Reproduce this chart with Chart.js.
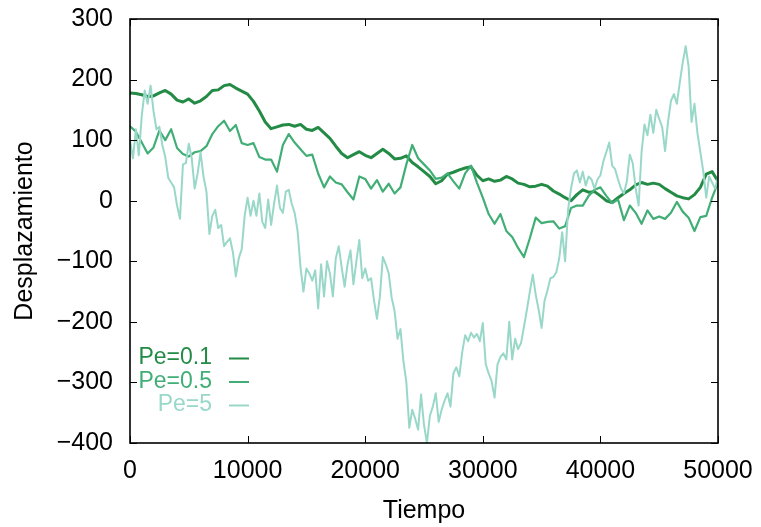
<!DOCTYPE html>
<html lang="es">
<head>
    <meta charset="UTF-8">
    <title>Desplazamiento vs Tiempo</title>
    <script src="https://cdn.jsdelivr.net/npm/chart.js"></script>
    <style>
        html, body { margin: 0; padding: 0; background: #fff; }
        #wrap { width: 761px; height: 527px; }
    </style>
</head>
<body>
    <div id="wrap"><canvas id="despChart" width="761" height="527"></canvas></div>

    <script>
        // Desplazamiento por Péclet, muestreado cada STEP unidades de tiempo
        const STEP_SLOW = 500;
        const STEP_FAST = 250;

        const pe01 = [
            178, 177, 175, 172, 173, 178, 182, 176, 166, 163,
            168, 161, 165, 172, 182, 183, 190, 192, 186, 181,
            176, 164, 148, 130, 119, 122, 125, 126, 123, 126,
            118, 116, 121, 112, 103, 90, 78, 71, 76, 81,
            75, 71, 78, 85, 78, 69, 70, 74, 63, 56,
            48, 40, 28, 33, 44, 47, 51, 54, 56, 42,
            33, 36, 32, 34, 40, 36, 29, 27, 23, 24,
            27, 24, 16, 11, 5, 0, 10, 18, 14, 15,
            8, 0, -3, 5, 12, 18, 26, 30, 27, 29,
            27, 20, 14, 8, 5, 3, 10, 22, 44, 48,
            32
        ];

        const pe05 = [
            123, 114, 96, 78, 88, 116, 100, 118, 87, 77,
            73, 80, 82, 90, 110, 123, 132, 115, 125, 95,
            92, 95, 72, 68, 68, 48, 92, 110, 96, 85,
            74, 76, 45, 22, 40, 30, 27, 14, 2, 40,
            36, 20, 34, 15, 28, 12, 22, 60, 92, 70,
            60, 50, 36, 38, 45, 32, 20, 45, 58, 30,
            5, -22, -38, -22, -50, -60, -78, -93, -62, -28,
            -37, -35, -34, -46, -42, -12, -8, -8, 8, 18,
            22, 8, -4, 2, -32, -8, -20, -38, -16, -30,
            -26, -30, -20, -2, -18, -28, -50, -27, -25, 5,
            30
        ];

        const pe5 = [
            100, 70, 118, 75, 140, 182, 160, 190, 148, 118,
            122, 92, 72, 38, 30, 22, -8, -30, 60, 62,
            94, 70, 20, 45, 80, 40, 15, -55, -25, -15,
            -45, -40, -75, -68, -62, -85, -125, -95, -80, -25,
            5, -25, 0, -25, 12, -35, -45, 2, -40, -5,
            25, -12, -20, 15, 18, -5, -20, -50, -110, -150,
            -112, -120, -132, -115, -178, -105, -158, -100, -120, -158,
            -95, -75, -110, -142, -105, -82, -138, -100, -65, -128,
            -112, -132, -128, -165, -195, -158, -93, -105, -120, -160,
            -182, -228, -212, -265, -300, -375, -345, -360, -378, -320,
            -370, -400, -355, -340, -318, -365, -345, -330, -318, -340,
            -285, -275, -290, -250, -222, -232, -218, -226, -220, -232,
            -202, -270, -285, -298, -325, -270, -258, -252, -262, -200,
            -262, -228, -245, -235, -208, -180, -150, -122, -155, -180,
            -210, -165, -148, -128, -126, -118, -95, -52, -100, -15,
            20, 45, 50, 30, 48, 25, 40, 35, 20, 35,
            42, 65, 80, 96, 58, 52, 35, 20, 12, 32,
            76, 62, 20, -8, 80, 126, 108, 142, 112, 150,
            135, 122, 82, 130, 165, 176, 160, 195, 228, 255,
            222, 130, 160, 112, 80, 48, 5, 40, 30, 20,
            38
        ];

        const xTicks = [0, 10000, 20000, 30000, 40000, 50000];
        const yTicks = [-400, -300, -200, -100, 0, 100, 200, 300];

        const series = [
            { label: 'Pe=0.1', values: pe01, step: STEP_SLOW, color: '#238b45', width: 3 },
            { label: 'Pe=0.5', values: pe05, step: STEP_SLOW, color: '#41ae76', width: 2.2 },
            { label: 'Pe=5', values: pe5, step: STEP_FAST, color: '#99d8c9', width: 2 }
        ];

        const FONT = "'Liberation Sans', Arial, Helvetica, sans-serif";

        function toPoints(values, step) {
            return values.map((v, i) => ({ x: i * step, y: v }));
        }

        function fmt(v) {
            return v < 0 ? '\u2212' + (-v) : String(v);
        }

        // border on all four sides plus inward ticks (gnuplot style)
        const frame = {
            id: 'frame',
            afterDraw(chart) {
                const { ctx, chartArea: a, scales } = chart;
                const len = 7;
                ctx.save();
                ctx.strokeStyle = '#000';
                ctx.lineWidth = 1;
                ctx.beginPath();
                xTicks.forEach(t => {
                    const px = Math.round(scales.x.getPixelForValue(t)) + 0.5;
                    ctx.moveTo(px, a.bottom); ctx.lineTo(px, a.bottom - len);
                    ctx.moveTo(px, a.top); ctx.lineTo(px, a.top + len);
                });
                yTicks.forEach(t => {
                    const py = Math.round(scales.y.getPixelForValue(t)) + 0.5;
                    ctx.moveTo(a.left, py); ctx.lineTo(a.left + len, py);
                    ctx.moveTo(a.right, py); ctx.lineTo(a.right - len, py);
                });
                ctx.stroke();
                ctx.lineWidth = 1.6;
                ctx.strokeRect(a.left, a.top, a.right - a.left, a.bottom - a.top);

                // key, bottom left inside the plot
                ctx.font = '23px ' + FONT;
                ctx.textAlign = 'right';
                ctx.textBaseline = 'middle';
                series.forEach((s, i) => {
                    const y = 358 + i * 23.5;
                    ctx.fillStyle = s.color;
                    ctx.fillText(s.label, 212, y);
                    ctx.strokeStyle = s.color;
                    ctx.lineWidth = 2;
                    ctx.beginPath();
                    ctx.moveTo(229, y + 0.5);
                    ctx.lineTo(249, y + 0.5);
                    ctx.stroke();
                });
                ctx.restore();
            }
        };

        new Chart(document.getElementById('despChart').getContext('2d'), {
            type: 'line',
            data: {
                datasets: series.map((s, i) => ({
                    label: s.label,
                    data: toPoints(s.values, s.step),
                    borderColor: s.color,
                    borderWidth: s.width,
                    borderJoinStyle: 'round',
                    pointRadius: 0,
                    tension: 0,
                    fill: false,
                    order: 3 - i
                }))
            },
            options: {
                responsive: false,
                animation: false,
                events: [],
                layout: { padding: { left: 0, right: 43, top: 19, bottom: 0 } },
                plugins: { legend: { display: false }, tooltip: { enabled: false } },
                scales: {
                    x: {
                        type: 'linear',
                        min: 0,
                        max: 50000,
                        afterBuildTicks: scale => { scale.ticks = xTicks.map(v => ({ value: v })); },
                        afterFit: scale => {
                            scale.height = 84;
                            scale.paddingLeft = 0;
                            scale.paddingRight = 0;
                        },
                        grid: { display: false, drawTicks: false },
                        border: { display: false },
                        ticks: {
                            padding: 13,
                            color: '#000',
                            font: { family: FONT, size: 25 },
                            maxRotation: 0,
                            callback: v => String(v)
                        },
                        title: {
                            display: true,
                            text: 'Tiempo',
                            color: '#000',
                            font: { family: FONT, size: 25 },
                            padding: { top: 0, bottom: 1 }
                        }
                    },
                    y: {
                        type: 'linear',
                        min: -400,
                        max: 300,
                        afterBuildTicks: scale => { scale.ticks = yTicks.map(v => ({ value: v })); },
                        afterFit: scale => {
                            scale.width = 130;
                            scale.paddingTop = 0;
                            scale.paddingBottom = 0;
                        },
                        grid: { display: false, drawTicks: false },
                        border: { display: false },
                        ticks: {
                            padding: 17,
                            color: '#000',
                            font: { family: FONT, size: 25 },
                            callback: v => fmt(v)
                        },
                        title: {
                            display: true,
                            text: 'Desplazamiento',
                            color: '#000',
                            font: { family: FONT, size: 25 },
                            padding: { top: 10, bottom: 0 }
                        }
                    }
                }
            },
            plugins: [frame]
        });
    </script>
</body>
</html>
